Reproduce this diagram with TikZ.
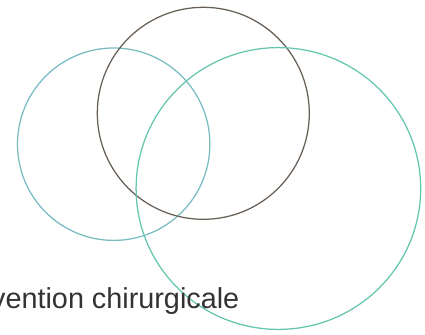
\documentclass[tikz,border=0pt]{standalone}
\usepackage{fontspec}
\setmainfont{Liberation Sans}
\definecolor{leftc}{HTML}{78BCC2}
\definecolor{midc}{HTML}{675F55}
\definecolor{rightc}{HTML}{64C6AE}
\definecolor{txtc}{HTML}{333333}
\begin{document}
\begin{tikzpicture}[x=1bp,y=-1bp,
  ring/.style={line width=1.25bp},
  lbl/.style={inner sep=0pt,anchor=base east,text=txtc,font=\fontsize{28.8bp}{30bp}\selectfont}]
\useasboundingbox (0,0) rectangle (425,335);
\clip (0,0) rectangle (425,335);
\draw[ring,leftc] (113.7,144.2) circle[radius=96.2];
\draw[ring,midc] (203.3,113.3) circle[radius=106];
\draw[ring,rightc] (278.4,188.5) ellipse[x radius=142.3,y radius=140.9];
\node[lbl] (t) at (239.5,308) {vention chirurgicale};
\end{tikzpicture}
\end{document}
